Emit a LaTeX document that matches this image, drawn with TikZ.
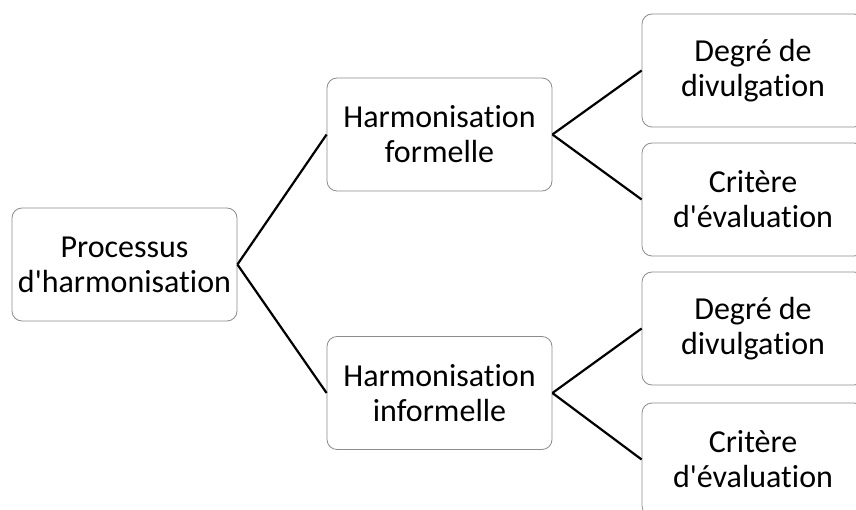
\documentclass[tikz,border=0pt]{standalone}
\usepackage{fontspec}
\setmainfont{Carlito}[Ligatures=NoCommon]
\usepackage{tikz}
\usetikzlibrary{positioning}

\begin{document}
\begin{tikzpicture}[
        x=1pt, y=1pt,
        every node/.style={draw=gray!90, fill=white, rounded corners=10pt, line width=0.8pt,
            minimum width=225pt, minimum height=113pt, align=center,
            font=\fontsize{32}{35}\selectfont, inner sep=0pt},
        edge/.style={draw=black, line width=2.2pt}
        ]

        \clip (0,0) rectangle (856,509);

        % Nodes
        \node (root) at (124.5,244.5) {Processus\\d\textquotesingle harmonisation};
        \node (formelle) at (439.5,374.5) {Harmonisation\\formelle};
        \node (informelle) at (439.5,116) {Harmonisation\\informelle};
        \node (degre1) [minimum width=222pt] at (753,438.5) {Degré de\\divulgation};
        \node (critere1) [minimum width=222pt] at (753,309.5) {Critère\\d\textquotesingle évaluation};
        \node (degre2) [minimum width=222pt] at (753,180.5) {Degré de\\divulgation};
        \node (critere2) [minimum width=222pt] at (753,49.5) {Critère\\d\textquotesingle évaluation};

        % Edges
        \draw[edge] (root.east) -- (formelle.west);
        \draw[edge] (root.east) -- (informelle.west);
        \draw[edge] (formelle.east) -- (degre1.west);
        \draw[edge] (formelle.east) -- (critere1.west);
        \draw[edge] (informelle.east) -- (degre2.west);
        \draw[edge] (informelle.east) -- (critere2.west);

    \end{tikzpicture}
\end{document}
